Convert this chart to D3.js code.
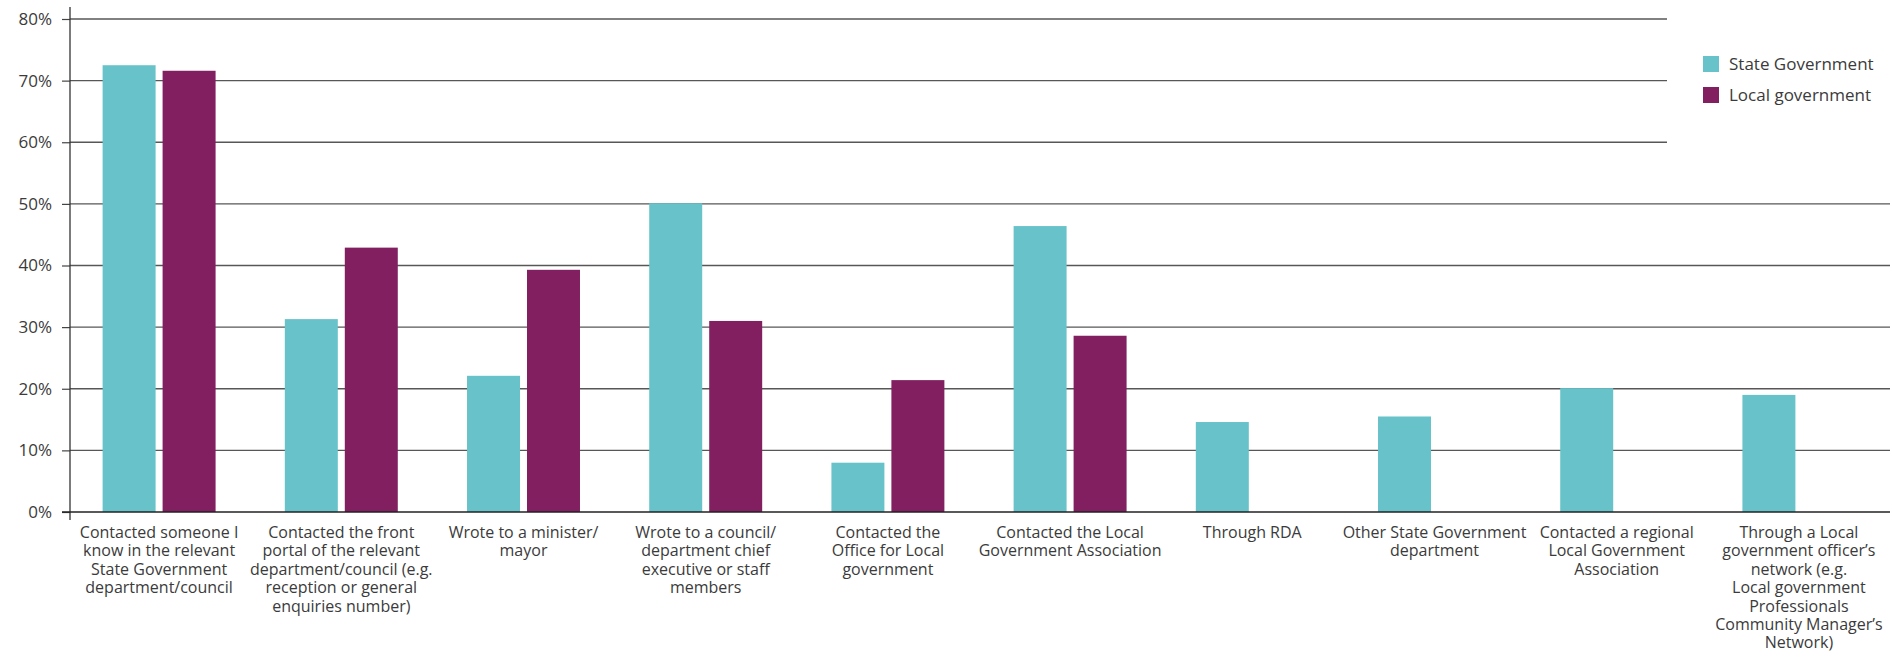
<!DOCTYPE html>
<html>
<head>
<meta charset="utf-8">
<script src="https://cdn.jsdelivr.net/npm/d3@7"></script>
<style>
  html, body { margin: 0; padding: 0; background: #ffffff; }
  svg { display: block; }
  text { font-family: "Open Sans", "DejaVu Sans", sans-serif; fill: #3b3b3b; }
</style>
</head>
<body>
<svg id="chart" width="1892" height="657"></svg>
<script>
// How people made contact, by level of government (percent of respondents)
const categories = [
  "Contacted someone I\nknow in the relevant\nState Government\ndepartment/council",
  "Contacted the front\nportal of the relevant\ndepartment/council (e.g.\nreception or general\nenquiries number)",
  "Wrote to a minister/\nmayor",
  "Wrote to a council/\ndepartment chief\nexecutive or staff\nmembers",
  "Contacted the\nOffice for Local\ngovernment",
  "Contacted the Local\nGovernment Association",
  "Through RDA",
  "Other State Government\ndepartment",
  "Contacted a regional\nLocal Government\nAssociation",
  "Through a Local\ngovernment officer\u2019s\nnetwork (e.g.\nLocal government\nProfessionals\nCommunity Manager\u2019s\nNetwork)"
];
const seriesNames = ["State Government", "Local government"];
const stateGovernment = [72.5, 31.3, 22.1, 50.1, 8.0, 46.4, 14.6, 15.5, 20.1, 19.0];
const localGovernment = [71.6, 42.9, 39.3, 31.0, 21.4, 28.6, null, null, null, null];
const yTicks = [0, 10, 20, 30, 40, 50, 60, 70, 80];
const seriesColors = ["#67c3c9", "#811f60"];

const svg = d3.select("#chart");
const plot = { left: 70, right: 1890, top: 19, bottom: 512 };

const x0 = d3.scaleBand()
  .domain(d3.range(categories.length))
  .range([68, 1890])
  .paddingInner(0.38)
  .paddingOuter(0.19);

const x1 = d3.scaleBand()
  .domain(seriesNames)
  .range([0, x0.bandwidth()])
  .paddingInner(7 / 60);

const y = d3.scaleLinear()
  .domain([0, 80])
  .range([plot.bottom, plot.top]);

const color = d3.scaleOrdinal().domain(seriesNames).range(seriesColors);

// Horizontal gridlines (the top ones stop short of the legend)
const legendEdge = 1667;
svg.append("g")
  .selectAll("line")
  .data(yTicks.filter(d => d > 0))
  .join("line")
  .attr("x1", plot.left)
  .attr("x2", d => d >= 60 ? legendEdge : plot.right)
  .attr("y1", d => y(d))
  .attr("y2", d => y(d))
  .attr("stroke", "#575757")
  .attr("stroke-width", 1.3);

// Bars
const rows = categories.map((c, i) => ({
  i,
  values: [
    { key: seriesNames[0], value: stateGovernment[i] },
    { key: seriesNames[1], value: localGovernment[i] }
  ].filter(v => v.value != null)
}));

svg.append("g")
  .selectAll("g")
  .data(rows)
  .join("g")
  .attr("transform", d => `translate(${x0(d.i)},0)`)
  .selectAll("rect")
  .data(d => d.values)
  .join("rect")
  .attr("x", d => x1(d.key))
  .attr("width", x1.bandwidth())
  .attr("y", d => y(d.value))
  .attr("height", d => y(0) - y(d.value))
  .attr("fill", d => color(d.key));

// Y axis with percent ticks
const yAxis = svg.append("g")
  .attr("transform", `translate(${plot.left},0)`)
  .call(d3.axisLeft(y).tickValues(yTicks).tickFormat(d => d + "%").tickSize(8).tickPadding(10));
yAxis.select(".domain").remove();
yAxis.selectAll(".tick line").attr("stroke", "#444").attr("stroke-width", 1.2);
yAxis.selectAll(".tick text")
  .attr("font-size", 17)
  .attr("fill", "#3b3b3b")
  .attr("font-family", "'Open Sans', sans-serif");

svg.append("line")
  .attr("x1", plot.left).attr("x2", plot.left)
  .attr("y1", 7).attr("y2", 520)
  .attr("stroke", "#333").attr("stroke-width", 1.3);

// X baseline
svg.append("line")
  .attr("x1", 62).attr("x2", plot.right)
  .attr("y1", y(0)).attr("y2", y(0))
  .attr("stroke", "#222").attr("stroke-width", 1.5);

// Category labels, wrapped on explicit breaks
const labels = svg.append("g")
  .selectAll("text")
  .data(categories)
  .join("text")
  .attr("text-anchor", "middle")
  .attr("font-size", 16)
  .attr("x", (d, i) => x0(i) + x0.bandwidth() / 2)
  .attr("y", 538);
labels.selectAll("tspan")
  .data(d => d.split("\n"))
  .join("tspan")
  .attr("x", function () { return d3.select(this.parentNode).attr("x"); })
  .attr("dy", (d, i) => i === 0 ? 0 : 18.4)
  .text(d => d);

// Legend
const legend = svg.append("g")
  .selectAll("g")
  .data(seriesNames)
  .join("g")
  .attr("transform", (d, i) => `translate(1703,${56 + i * 31})`);
legend.append("rect")
  .attr("width", 16).attr("height", 16)
  .attr("fill", d => color(d));
legend.append("text")
  .attr("x", 26).attr("y", 8)
  .attr("dy", "0.35em")
  .attr("font-size", 17)
  .text(d => d);
</script>
</body>
</html>
